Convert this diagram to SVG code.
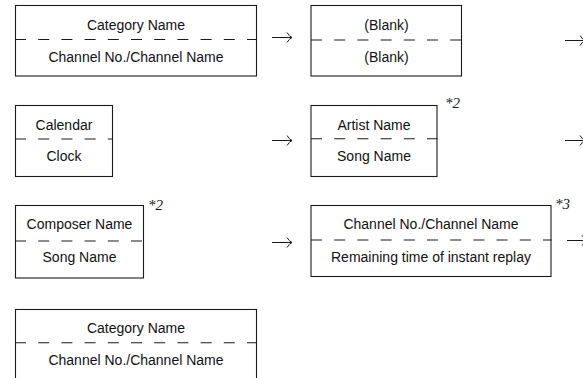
<svg xmlns="http://www.w3.org/2000/svg" width="583" height="378" viewBox="0 0 583 378">
<defs>
<style>
.box{fill:#fff;stroke:#1a1a1a;stroke-width:1.1}
.dash{fill:none;stroke:#1a1a1a;stroke-width:1.1;stroke-dasharray:11 12.2}
.t{font-family:"Liberation Sans",Arial,sans-serif;font-size:14px;fill:#111;text-anchor:middle}
.n{font-family:"Liberation Serif","Times New Roman",serif;font-size:15px;font-style:italic;fill:#1a1a1a}
.arr{fill:none;stroke:#1a1a1a;stroke-width:1}
</style>
</defs>
<rect width="583" height="378" fill="#fff"/>
<g id="node-category-1">
<rect class="box" x="15.5" y="5.5" width="241" height="70.5"/>
<line class="dash" x1="15" y1="39.5" x2="257" y2="39.5"/>
<text class="t" x="136" y="29.5">Category Name</text>
<text class="t" x="136" y="61.5">Channel No./Channel Name</text>
</g>
<g id="node-blank">
<rect class="box" x="311" y="5.5" width="150.5" height="70.5"/>
<line class="dash" x1="311" y1="40" x2="462" y2="40"/>
<text class="t" x="386.5" y="30">(Blank)</text>
<text class="t" x="386.5" y="62">(Blank)</text>
</g>
<g id="node-calendar">
<rect class="box" x="15.5" y="105.5" width="97" height="71"/>
<line class="dash" x1="15" y1="139" x2="113" y2="139"/>
<text class="t" x="64" y="130">Calendar</text>
<text class="t" x="64" y="160.5">Clock</text>
</g>
<g id="node-artist">
<rect class="box" x="311" y="105.5" width="126" height="71"/>
<line class="dash" x1="311" y1="138.7" x2="437.5" y2="138.7"/>
<text class="t" x="374" y="130">Artist Name</text>
<text class="t" x="374" y="160.5">Song Name</text>
<text class="n" x="445" y="108">*2</text>
</g>
<g id="node-composer">
<rect class="box" x="15.5" y="205.5" width="128" height="72.5"/>
<line class="dash" x1="15" y1="241" x2="144" y2="241"/>
<text class="t" x="79.5" y="229.3">Composer Name</text>
<text class="t" x="79.5" y="261.5">Song Name</text>
<text class="n" x="148" y="209.5">*2</text>
</g>
<g id="node-replay">
<rect class="box" x="311" y="205.5" width="240" height="71"/>
<line class="dash" x1="311" y1="240" x2="551.5" y2="240"/>
<text class="t" x="431" y="229.3">Channel No./Channel Name</text>
<text class="t" x="431" y="261.5">Remaining time of instant replay</text>
<text class="n" x="555" y="208.5">*3</text>
</g>
<g id="node-category-2">
<rect class="box" x="15.5" y="309.5" width="241" height="80"/>
<line class="dash" x1="15" y1="342.7" x2="257" y2="342.7"/>
<text class="t" x="136" y="332.7">Category Name</text>
<text class="t" x="136" y="365">Channel No./Channel Name</text>
</g>
<g id="connectors">
<path class="arr" d="M272,37.5H292M287,32.5Q289.5,36.5 292,37.5Q289.5,38.5 287,42.5"/>
<path class="arr" d="M565,40.5H585M580,35.5Q582.5,39.5 585,40.5Q582.5,41.5 580,45.5"/>
<path class="arr" d="M272,140.5H292M287,135.5Q289.5,139.5 292,140.5Q289.5,141.5 287,145.5"/>
<path class="arr" d="M565,140.5H585M580,135.5Q582.5,139.5 585,140.5Q582.5,141.5 580,145.5"/>
<path class="arr" d="M272,242.5H292M287,237.5Q289.5,241.5 292,242.5Q289.5,243.5 287,247.5"/>
<path class="arr" d="M567,240.5H587M582,235.5Q584.5,239.5 587,240.5Q584.5,241.5 582,245.5"/>
</g>
</svg>
